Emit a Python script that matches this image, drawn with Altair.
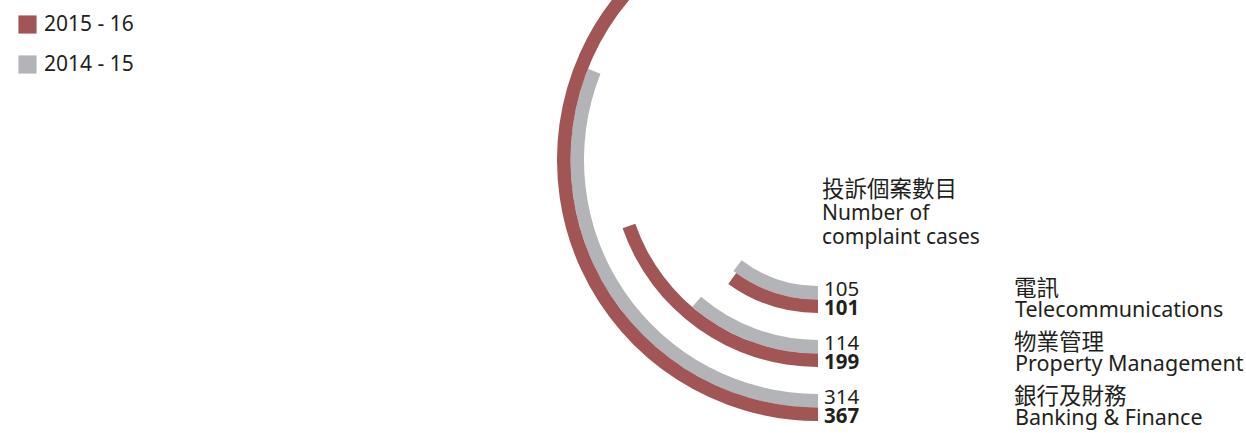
import math
import altair as alt
import pandas as pd

# ---- data ----
categories_zh = ["電訊", "物業管理", "銀行及財務"]
categories_en = ["Telecommunications", "Property Management", "Banking & Finance"]
values_2014_15 = [105, 114, 314]
values_2015_16 = [101, 199, 367]
series_names = ["2015 - 16", "2014 - 15"]
header_zh = "投訴個案數目"
header_en = ["Number of", "complaint cases"]

RED = "#a15554"
GRAY = "#b2b4b7"
TEXT = "#231f20"
FONT = "Noto Sans, Noto Sans CJK TC"

rows = []
for i, (zh, en) in enumerate(zip(categories_zh, categories_en)):
    for s, (name, vals) in enumerate([("2014 - 15", values_2014_15), ("2015 - 16", values_2015_16)]):
        ring = 4 * i + s
        rows.append(dict(category_zh=zh, category_en=en, series=name,
                         value=vals[i], zero=0, r0=ring, r1=ring + 1, rmid=ring + 0.5))
df = pd.DataFrame(rows)

CX, CY = 818, 160
DEG_PER_UNIT = 0.3555
theta_scale = alt.Scale(type="linear", domain=[0, 400],
                        range=[math.pi, math.pi + 400 * DEG_PER_UNIT * math.pi / 180])
radius_scale = alt.Scale(type="linear", domain=[0, 12], range=[126, 288], zero=False)

base = alt.Chart(df)

arcs = base.mark_arc().encode(
    x=alt.value(CX), y=alt.value(CY),
    theta=alt.Theta("zero:Q", scale=theta_scale, stack=False),
    theta2="value:Q",
    radius=alt.Radius("r0:Q", scale=radius_scale),
    radius2="r1:Q",
    color=alt.Color("series:N",
                    scale=alt.Scale(domain=series_names, range=[RED, GRAY]),
                    legend=alt.Legend(title=None, orient="none", legendX=17, legendY=14,
                                      symbolType="square", symbolSize=330,
                                      symbolStrokeWidth=0, symbolOpacity=1,
                                      labelFontSize=21, labelFont=FONT, labelColor=TEXT,
                                      labelOffset=6, rowPadding=18)),
)

def polar_text(filter_series, field, dx, dy, size, bold=False):
    return base.transform_filter(alt.datum.series == filter_series).mark_text(
        align="left", baseline="middle", dx=dx, dy=dy, fontSize=size, font=FONT,
        color=TEXT, fontWeight="bold" if bold else "normal"
    ).encode(
        x=alt.value(CX), y=alt.value(CY),
        theta=alt.Theta("zero:Q", scale=theta_scale, stack=False),
        radius=alt.Radius("rmid:Q", scale=radius_scale),
        text=field,
    )

num_gray = polar_text("2014 - 15", "value:Q", 6, -3, 20.5)
num_red = polar_text("2015 - 16", "value:Q", 6, 3, 20.5, bold=True)
lab_zh = polar_text("2014 - 15", "category_zh:N", 196, -4, 22.5)
lab_en = polar_text("2015 - 16", "category_en:N", 197, 5, 21.5)

header_cn = alt.Chart(pd.DataFrame({"t": [header_zh]})).mark_text(
    align="left", baseline="alphabetic", fontSize=22.5, font=FONT, color=TEXT
).encode(x=alt.value(822), y=alt.value(197), text="t:N")

header_lat = alt.Chart(pd.DataFrame({"t": ["\n".join(header_en)]})).mark_text(
    align="left", baseline="alphabetic", fontSize=21, font=FONT, color=TEXT,
    lineBreak="\n", lineHeight=24
).encode(x=alt.value(822), y=alt.value(220), text="t:N")

chart = alt.layer(arcs, num_gray, num_red, lab_zh, lab_en, header_cn, header_lat).properties(
    width=1246, height=433, padding=0, autosize="none"
).configure_view(stroke="transparent")

chart.save("out.html", embed_options={"renderer": "svg", "actions": False})
